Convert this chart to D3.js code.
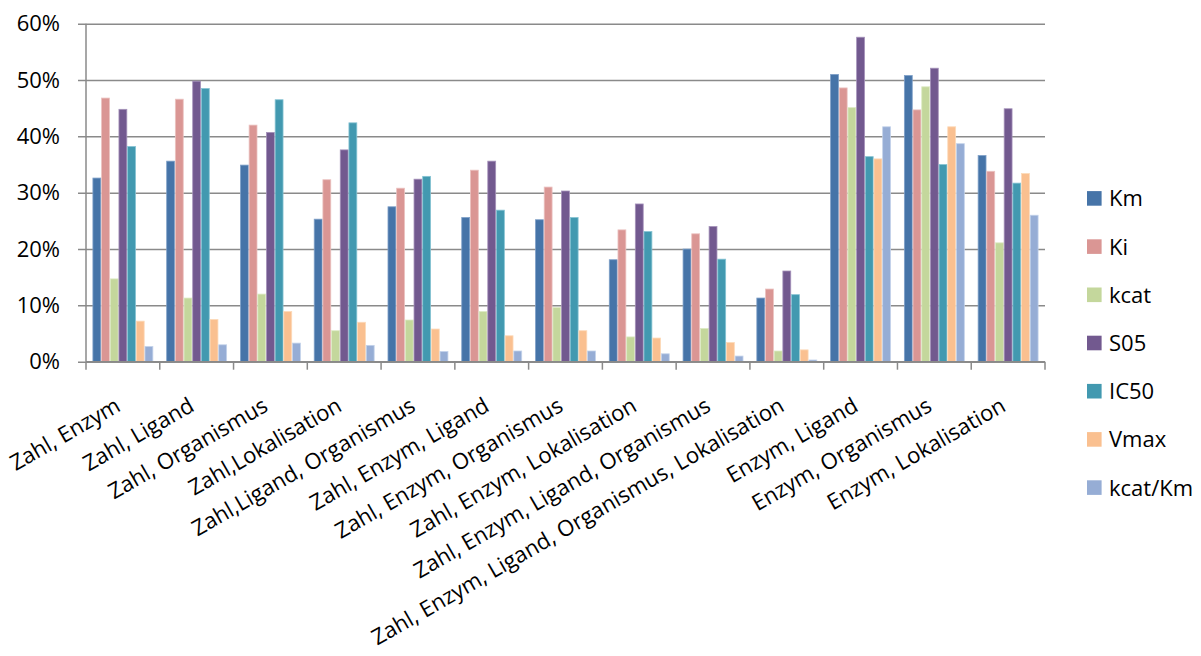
<!DOCTYPE html>
<html>
<head>
<meta charset="utf-8">
<script src="https://cdn.jsdelivr.net/npm/d3@7"></script>
<style>
  html, body { margin: 0; padding: 0; background: #fff; }
  svg { display: block; }
  text { font-family: "Open Sans", "Noto Sans", sans-serif; fill: #000; }
</style>
</head>
<body>
<svg id="chart" width="1201" height="656"></svg>
<script>
// Categories (attribute combinations)
const categories = [
  "Zahl, Enzym",
  "Zahl, Ligand",
  "Zahl, Organismus",
  "Zahl,Lokalisation",
  "Zahl,Ligand, Organismus",
  "Zahl, Enzym, Ligand",
  "Zahl, Enzym, Organismus",
  "Zahl, Enzym, Lokalisation",
  "Zahl, Enzym, Ligand, Organismus",
  "Zahl, Enzym, Ligand, Organismus, Lokalisation",
  "Enzym, Ligand",
  "Enzym, Organismus",
  "Enzym, Lokalisation"
];

// Series names
const seriesNames = ["Km", "Ki", "kcat", "S05", "IC50", "Vmax", "kcat/Km"];

// Values per series (fractions), one per category
const km      = [0.326, 0.356, 0.349, 0.253, 0.275, 0.256, 0.252, 0.181, 0.200, 0.113, 0.510, 0.508, 0.366];
const ki      = [0.468, 0.466, 0.420, 0.323, 0.308, 0.340, 0.310, 0.234, 0.227, 0.129, 0.486, 0.447, 0.338];
const kcat    = [0.147, 0.113, 0.120, 0.055, 0.074, 0.089, 0.096, 0.044, 0.059, 0.019, 0.451, 0.488, 0.211];
const s05     = [0.448, 0.498, 0.407, 0.376, 0.324, 0.356, 0.303, 0.280, 0.240, 0.161, 0.576, 0.521, 0.449];
const ic50    = [0.382, 0.485, 0.465, 0.424, 0.329, 0.269, 0.256, 0.231, 0.182, 0.119, 0.364, 0.350, 0.317];
const vmax    = [0.072, 0.075, 0.089, 0.070, 0.058, 0.046, 0.055, 0.042, 0.034, 0.021, 0.360, 0.417, 0.334];
const kcatKm  = [0.027, 0.030, 0.033, 0.029, 0.018, 0.019, 0.019, 0.014, 0.010, 0.003, 0.417, 0.387, 0.260];

const seriesValues = [km, ki, kcat, s05, ic50, vmax, kcatKm];

// Series colours and lighter outline tints
const fillColors   = ["#4674A8", "#DA9694", "#C4D79C", "#72598F", "#4299B0", "#FAC090", "#96ADD5"];
const strokeColors = ["#7FA0C8", "#EBC2C0", "#DDEAC4", "#A592BA", "#86C3D3", "#FCDAB9", "#C3D2EA"];

// Axis tick values
const yTicks = [0, 0.1, 0.2, 0.3, 0.4, 0.5, 0.6];

const svg = d3.select("#chart");
const plot = { left: 86, right: 1045, top: 23.7, bottom: 361.7 };
const gridColor = "#8A8A8A";

const x = d3.scaleBand()
  .domain(categories)
  .range([plot.left, plot.right])
  .paddingInner(0)
  .paddingOuter(0);

const bandInner = x.bandwidth();
// each group: 7 bars with a gap of 1.5 bar widths between groups
const barW = bandInner / (seriesNames.length + 1.5);
const xs = d3.scaleBand()
  .domain(seriesNames)
  .range([0.75 * barW, 0.75 * barW + barW * seriesNames.length])
  .padding(0);

const y = d3.scaleLinear().domain([0, 0.6]).range([plot.bottom, plot.top]);

// Horizontal gridlines with left tick marks
const yAxis = d3.axisLeft(y)
  .tickValues(yTicks)
  .tickFormat(d3.format(".0%"))
  .tickSize(-(plot.right - plot.left))
  .tickPadding(26);

const gy = svg.append("g")
  .attr("transform", `translate(${plot.left},0)`)
  .call(yAxis);
gy.select(".domain").remove();
gy.selectAll(".tick line")
  .attr("stroke", gridColor)
  .attr("stroke-width", 1.5)
  .attr("x1", -8);
gy.selectAll(".tick text")
  .attr("font-size", 22)
  .attr("font-family", "Open Sans")
  .attr("fill", "#000");

// Vertical axis line
svg.append("line")
  .attr("x1", plot.left).attr("x2", plot.left)
  .attr("y1", plot.top).attr("y2", plot.bottom)
  .attr("stroke", gridColor).attr("stroke-width", 1.5);

// Bars
const groups = svg.append("g").selectAll("g")
  .data(categories)
  .join("g")
  .attr("transform", d => `translate(${x(d)},0)`);

groups.selectAll("rect")
  .data((c, ci) => seriesNames.map((s, si) => ({ s, si, v: seriesValues[si][ci] })))
  .join("rect")
  .attr("x", d => xs(d.s) + 0.4)
  .attr("width", xs.bandwidth() - 0.8)
  .attr("y", d => y(d.v))
  .attr("height", d => y(0) - y(d.v))
  .attr("fill", d => fillColors[d.si])
  .attr("stroke", d => strokeColors[d.si])
  .attr("stroke-width", 0.8);

// Category axis along the bottom with boundary tick marks
const boundaries = categories.map(c => x(c)).concat([plot.right]);
svg.append("line")
  .attr("x1", plot.left).attr("x2", plot.right)
  .attr("y1", plot.bottom).attr("y2", plot.bottom)
  .attr("stroke", gridColor).attr("stroke-width", 1.5);
svg.append("g").selectAll("line")
  .data(boundaries)
  .join("line")
  .attr("x1", d => d).attr("x2", d => d)
  .attr("y1", plot.bottom).attr("y2", plot.bottom + 8)
  .attr("stroke", gridColor).attr("stroke-width", 1.5);

// Rotated category labels
const angle = -30;
svg.append("g").selectAll("text")
  .data(categories)
  .join("text")
  .attr("text-anchor", "end")
  .attr("font-size", 22)
  .attr("transform", d => `translate(${x(d) + x.bandwidth() / 2 - 1},410) rotate(${angle})`)
  .text(d => d);

// Legend
const legend = svg.append("g").selectAll("g")
  .data(seriesNames)
  .join("g")
  .attr("transform", (d, i) => `translate(1087,${198.4 + i * 48.2})`);
legend.append("rect")
  .attr("x", 0).attr("y", -7.3)
  .attr("width", 14.6).attr("height", 14.6)
  .attr("fill", (d, i) => fillColors[i]);
legend.append("text")
  .attr("x", 22)
  .attr("dy", "0.36em")
  .attr("font-size", 22)
  .text(d => d);
</script>
</body>
</html>
